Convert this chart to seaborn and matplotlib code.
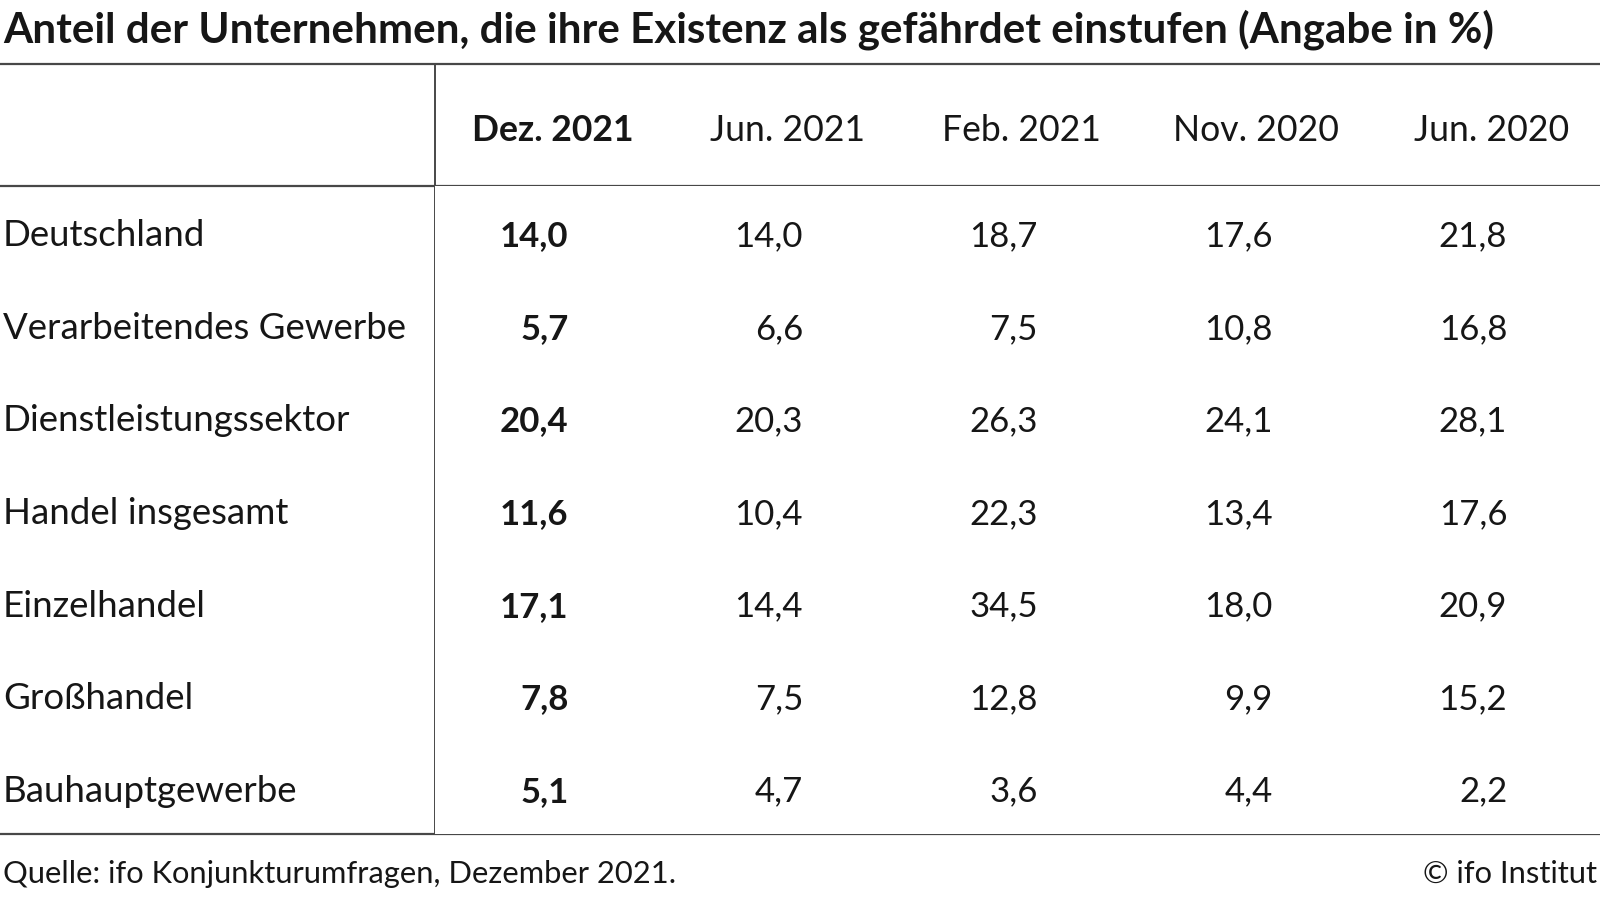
import seaborn as sns
import matplotlib.pyplot as plt
import numpy as np
import pandas as pd
from matplotlib.colors import ListedColormap

title = "Anteil der Unternehmen, die ihre Existenz als gefährdet einstufen (Angabe in %)"
periods = ["Dez. 2021", "Jun. 2021", "Feb. 2021", "Nov. 2020", "Jun. 2020"]
sectors = ["Deutschland", "Verarbeitendes Gewerbe", "Dienstleistungssektor",
           "Handel insgesamt", "Einzelhandel", "Großhandel", "Bauhauptgewerbe"]
dez_2021 = [14.0, 5.7, 20.4, 11.6, 17.1, 7.8, 5.1]
jun_2021 = [14.0, 6.6, 20.3, 10.4, 14.4, 7.5, 4.7]
feb_2021 = [18.7, 7.5, 26.3, 22.3, 34.5, 12.8, 3.6]
nov_2020 = [17.6, 10.8, 24.1, 13.4, 18.0, 9.9, 4.4]
jun_2020 = [21.8, 16.8, 28.1, 17.6, 20.9, 15.2, 2.2]
source = "Quelle: ifo Konjunkturumfragen, Dezember 2021."
credit = "© ifo Institut"

df = pd.DataFrame({p: v for p, v in zip(periods, [dez_2021, jun_2021, feb_2021, nov_2020, jun_2020])},
                  index=sectors)

sns.set_theme(style="white")
plt.rcParams["font.family"] = ["Lato", "DejaVu Sans"]

W, H = 1600, 901
fig = plt.figure(figsize=(W / 100, H / 100), dpi=100)
fig.patch.set_facecolor("white")

# pixel-coordinate overlay for title, labels and rules
bg = fig.add_axes([0, 0, 1, 1])
bg.set_xlim(0, W)
bg.set_ylim(H, 0)
bg.axis("off")

# table body as a plain white heatmap
left, top, bottom, colw = 435, 186, 834, 234.7
ax = fig.add_axes([left / W, 1 - bottom / H, colw * len(periods) / W, (bottom - top) / H])
sns.heatmap(df, cmap=ListedColormap(["white"]), cbar=False, annot=False, ax=ax,
            xticklabels=False, yticklabels=False)
ax.set_xlabel("")
ax.set_ylabel("")

ink = "#161616"
line = "#474747"
rowh = (bottom - top) / len(sectors)
fs_label, fs_head, fs_val = 26.4, 25.6, 25.0

# values: right aligned, first column bold
for j, col in enumerate(df.columns):
    for i, v in enumerate(df[col]):
        ax.text(j + 0.5 + 16 / colw, i + 0.5 + 14 / rowh, f"{v:.1f}".replace(".", ","),
                ha="right", va="baseline", fontsize=fs_val, color=ink,
                fontweight="bold" if j == 0 else "normal", clip_on=False)
    ax.text(j + 0.5, -(top - 141) / rowh, col, ha="center", va="baseline", fontsize=fs_head,
            color=ink, fontweight="bold" if j == 0 else "normal", clip_on=False)

for i, s in enumerate(sectors):
    ax.text(-(left - 3) / colw, i + 0.5 + 14 / rowh, s, ha="left", va="baseline",
            fontsize=fs_label, color=ink, clip_on=False)

bg.text(3, 42, title, ha="left", va="baseline", fontsize=30.3, fontweight="bold", color=ink)
bg.text(3, 883, source, ha="left", va="baseline", fontsize=22.2, color=ink)
bg.text(1597, 883, credit, ha="right", va="baseline", fontsize=22.2, color=ink)

for y in (64, top, bottom):
    bg.plot([0, W], [y, y], color=line, lw=1.6, solid_capstyle="butt")
bg.plot([left, left], [64, bottom], color=line, lw=1.4, solid_capstyle="butt")

fig.savefig("out.png", dpi=100, facecolor="white")
